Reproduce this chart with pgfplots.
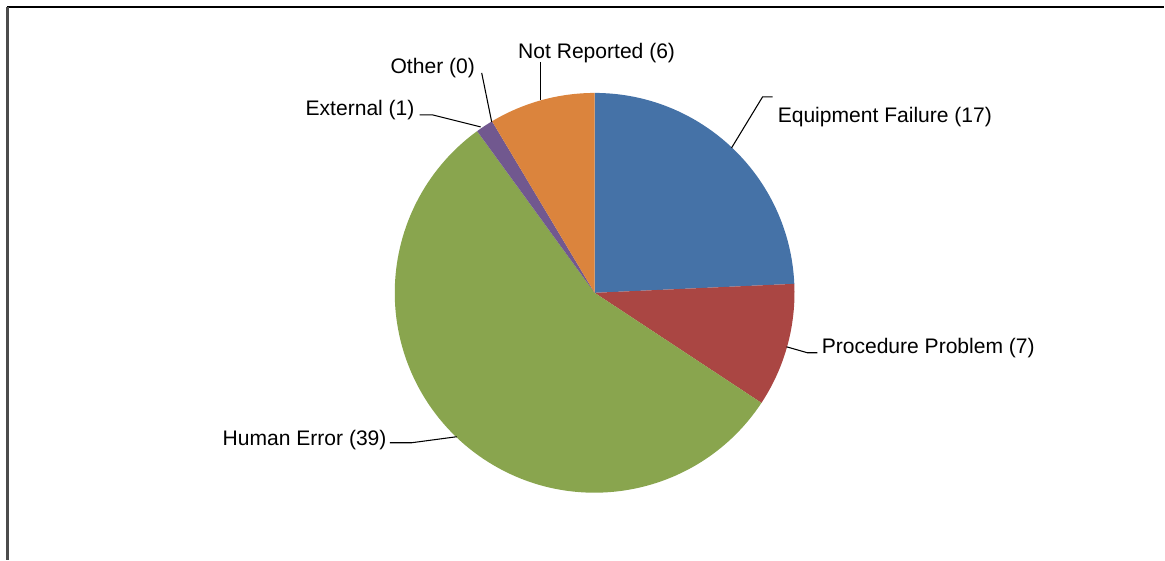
\documentclass[border=0pt]{standalone}
\usepackage{pgfplots}
\pgfplotsset{compat=1.18}
\usepackage{fontspec}
\setmainfont{Liberation Sans}
\definecolor{cA}{HTML}{4572A7}
\definecolor{cB}{HTML}{AA4643}
\definecolor{cC}{HTML}{89A54E}
\definecolor{cD}{HTML}{71588F}
\definecolor{cE}{HTML}{7F7F7F}
\definecolor{cF}{HTML}{DB843D}
\begin{document}
\begin{tikzpicture}
% values: Equipment Failure 17, Procedure Problem 7, Human Error 39, External 1, Other 0, Not Reported 6
\def\vA{17}\def\vB{7}\def\vC{39}\def\vD{1}\def\vE{0}\def\vF{6}
\pgfmathsetmacro\tot{\vA+\vB+\vC+\vD+\vE+\vF}
\pgfmathsetmacro\aA{90}
\pgfmathsetmacro\aB{\aA-\vA/\tot*360}
\pgfmathsetmacro\aC{\aB-\vB/\tot*360}
\pgfmathsetmacro\aD{\aC-\vC/\tot*360}
\pgfmathsetmacro\aE{\aD-\vD/\tot*360}
\pgfmathsetmacro\aF{\aE-\vE/\tot*360}
\pgfmathsetmacro\aG{\aF-\vF/\tot*360}
\begin{axis}[x=0.75pt,y=0.75pt,xmin=0,xmax=1165,ymin=0,ymax=560,
  hide axis,clip=false,scale only axis]
\path (axis cs:0,0) rectangle (axis cs:1165,560);
\draw[black,line width=1.1pt] (axis cs:7,553) -- (axis cs:1165,553);
\draw[black!70,line width=1.6pt] (axis cs:7.5,553) -- (axis cs:7.5,0);
\fill[cA] (axis cs:595,267) -- ++(\aA:150pt) arc[start angle=\aA,end angle=\aB,radius=150pt] -- cycle;
\fill[cB] (axis cs:595,267) -- ++(\aB:150pt) arc[start angle=\aB,end angle=\aC,radius=150pt] -- cycle;
\fill[cC] (axis cs:595,267) -- ++(\aC:150pt) arc[start angle=\aC,end angle=\aD,radius=150pt] -- cycle;
\fill[cD] (axis cs:595,267) -- ++(\aD:150pt) arc[start angle=\aD,end angle=\aE,radius=150pt] -- cycle;
\fill[cF] (axis cs:595,267) -- ++(\aF:150pt) arc[start angle=\aF,end angle=\aG,radius=150pt] -- cycle;
\begin{scope}[every node/.style={inner sep=0pt,font=\fontsize{15.8}{19}\selectfont}]
\draw[line width=0.8pt] (axis cs:732,412) -- (axis cs:763,463) -- (axis cs:773,463);
\node[anchor=west] at (axis cs:778,443) {Equipment Failure (17)};
\draw[line width=0.8pt] (axis cs:787,213) -- (axis cs:808,207) -- (axis cs:818,207);
\node[anchor=west] at (axis cs:822,212) {Procedure Problem (7)};
\draw[line width=0.8pt] (axis cs:390,117) -- (axis cs:412,117) -- (axis cs:457,123);
\node[anchor=east] at (axis cs:387,120) {Human Error (39)};
\draw[line width=0.8pt] (axis cs:420,445) -- (axis cs:433,445) -- (axis cs:481,433);
\node[anchor=east] at (axis cs:415,450) {External (1)};
\draw[line width=0.8pt] (axis cs:482,487) -- (axis cs:492,438);
\node at (axis cs:433,492) {Other (0)};
\draw[line width=0.8pt] (axis cs:541,498) -- (axis cs:541,460);
\node at (axis cs:597,507) {Not Reported (6)};
\end{scope}
\end{axis}
\end{tikzpicture}
\end{document}
